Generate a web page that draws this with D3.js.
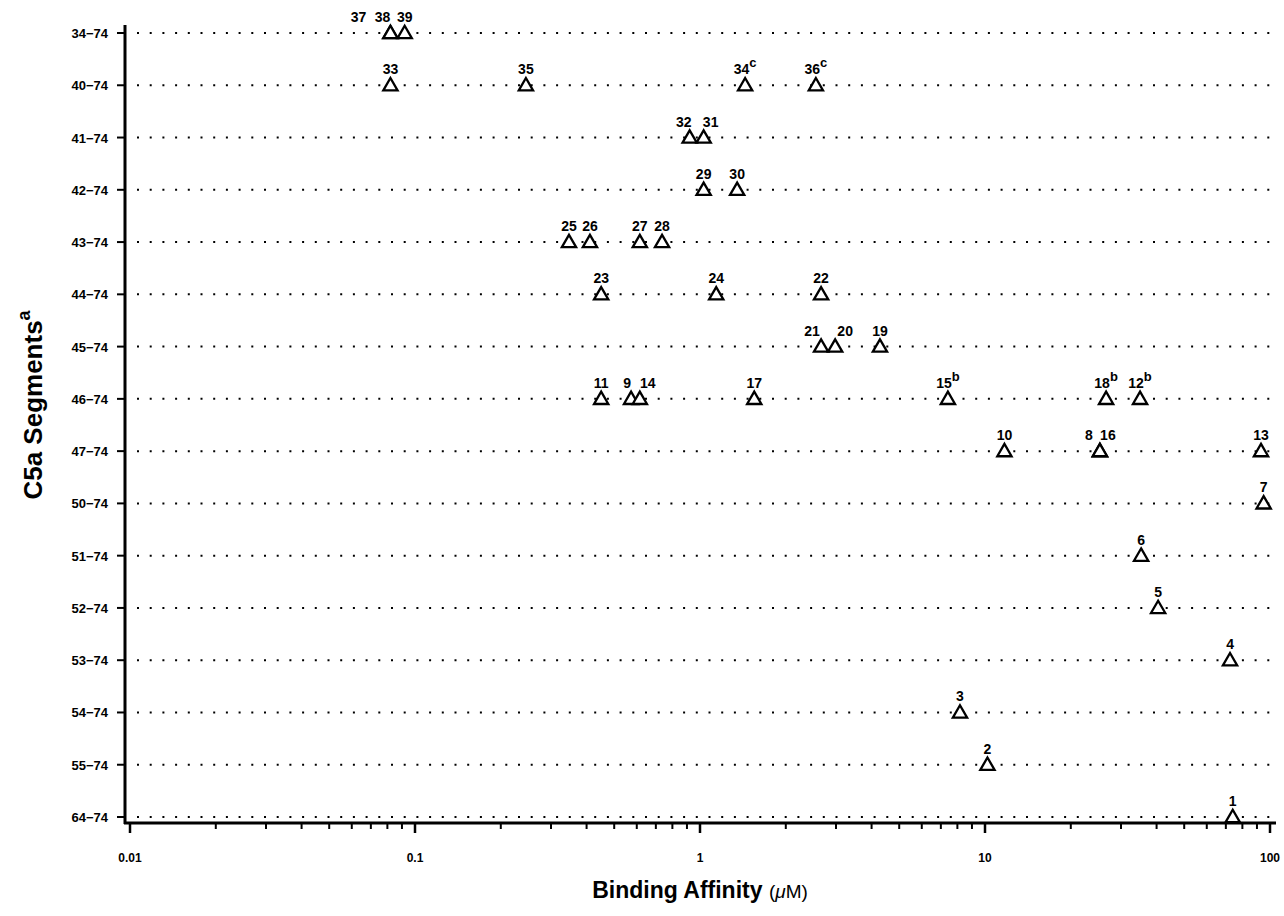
<!DOCTYPE html>
<html>
<head>
<meta charset="utf-8">
<script src="https://cdn.jsdelivr.net/npm/d3@7"></script>
<style>
  body { margin: 0; background: #fff; }
  svg text { font-family: "Liberation Sans", Arial, sans-serif; fill: #000; }
</style>
</head>
<body>
<script>
// C5a segments (rows, top to bottom)
var segments = ["34-74", "40-74", "41-74", "42-74", "43-74", "44-74", "45-74", "46-74",
                "47-74", "50-74", "51-74", "52-74", "53-74", "54-74", "55-74", "64-74"];

// compounds: number, segment, binding affinity (uM), footnote
var compoundIds  = [37, 38, 39, 33, 35, 34, 36, 32, 31, 29, 30, 25, 26, 27, 28, 23, 24, 22, 21, 20, 19,
                    11, 9, 14, 17, 15, 18, 12, 10, 8, 16, 13, 7, 6, 5, 4, 3, 2, 1];
var compoundSegs = ["34-74", "34-74", "34-74", "40-74", "40-74", "40-74", "40-74", "41-74", "41-74",
                    "42-74", "42-74", "43-74", "43-74", "43-74", "43-74", "44-74", "44-74", "44-74",
                    "45-74", "45-74", "45-74", "46-74", "46-74", "46-74", "46-74", "46-74", "46-74", "46-74",
                    "47-74", "47-74", "47-74", "47-74", "50-74", "51-74", "52-74", "53-74", "54-74", "55-74", "64-74"];
var affinity     = [0.082, 0.082, 0.092, 0.082, 0.245, 1.44, 2.55, 0.92, 1.03, 1.03, 1.35, 0.347, 0.411, 0.615, 0.736,
                    0.45, 1.14, 2.66, 2.66, 2.98, 4.28, 0.45, 0.573, 0.615, 1.55, 7.41, 26.6, 35.0,
                    11.7, 25.3, 25.3, 93, 95, 35.3, 40.5, 72.4, 8.17, 10.2, 74];
var footnotes    = {34: "c", 36: "c", 15: "b", 18: "b", 12: "b"};

// label nudges so crowded numbers don't sit on top of each other
var labelNudge = {37: -32, 38: -8, 8: -11, 16: 8, 32: -6, 31: 7, 21: -9, 20: 10, 9: -4, 14: 8};

var xTicks = [0.01, 0.1, 1, 10, 100];

var width = 1284, height = 916;

var svg = d3.select("body").append("svg")
    .attr("width", width)
    .attr("height", height);

var x = d3.scaleLog().domain([0.01, 100]).range([130, 1270]);
var y = d3.scalePoint().domain(segments).range([33, 817]);

var axisY = 823, axisX = 125;

// dotted row lines
svg.selectAll(".row")
    .data(segments)
    .enter().append("line")
    .attr("x1", 137).attr("x2", 1276)
    .attr("y1", function(d){ return y(d); })
    .attr("y2", function(d){ return y(d); })
    .attr("stroke", "#000")
    .attr("stroke-width", 2)
    .attr("stroke-dasharray", "2,10.7");

// y axis
svg.append("line")
    .attr("x1", axisX).attr("x2", axisX)
    .attr("y1", 25).attr("y2", axisY + 1)
    .attr("stroke", "#000").attr("stroke-width", 3);

svg.selectAll(".ytick")
    .data(segments)
    .enter().append("line")
    .attr("x1", axisX - 8).attr("x2", axisX)
    .attr("y1", function(d){ return y(d); })
    .attr("y2", function(d){ return y(d); })
    .attr("stroke", "#000").attr("stroke-width", 2);

svg.selectAll(".ylab")
    .data(segments)
    .enter().append("text")
    .attr("x", 108)
    .attr("y", function(d){ return y(d) + 5; })
    .attr("text-anchor", "end")
    .attr("font-size", 13)
    .attr("font-weight", "bold")
    .text(function(d){ return d.replace("-", "\u2212"); });

// x axis
svg.append("line")
    .attr("x1", axisX - 1).attr("x2", 1276)
    .attr("y1", axisY).attr("y2", axisY)
    .attr("stroke", "#000").attr("stroke-width", 3);

var minor = x.ticks().filter(function(d){ return xTicks.indexOf(d) < 0; });

svg.selectAll(".xminor")
    .data(minor)
    .enter().append("line")
    .attr("x1", function(d){ return x(d); })
    .attr("x2", function(d){ return x(d); })
    .attr("y1", axisY).attr("y2", axisY + 6)
    .attr("stroke", "#000").attr("stroke-width", 2);

svg.selectAll(".xmajor")
    .data(xTicks)
    .enter().append("line")
    .attr("x1", function(d){ return x(d); })
    .attr("x2", function(d){ return x(d); })
    .attr("y1", axisY).attr("y2", axisY + 10)
    .attr("stroke", "#000").attr("stroke-width", 2.5);

svg.selectAll(".xlab")
    .data(xTicks)
    .enter().append("text")
    .attr("x", function(d){ return x(d); })
    .attr("y", 862)
    .attr("text-anchor", "middle")
    .attr("font-size", 12)
    .attr("font-weight", "bold")
    .text(function(d){ return String(d); });

// axis titles
var xt = svg.append("text")
    .attr("x", 700).attr("y", 898)
    .attr("text-anchor", "middle")
    .attr("font-size", 23)
    .attr("font-weight", "bold");
xt.append("tspan").text("Binding Affinity ");
xt.append("tspan").attr("font-weight", "normal").attr("font-size", 19).text("(");
xt.append("tspan").attr("font-style", "italic").attr("font-weight", "normal").attr("font-size", 19).text("\u03bc");
xt.append("tspan").attr("font-weight", "normal").attr("font-size", 19).text("M)");

var yt = svg.append("text")
    .attr("transform", "translate(42,405) rotate(-90)")
    .attr("text-anchor", "middle")
    .attr("font-size", 26)
    .attr("font-weight", "bold");
yt.append("tspan").text("C5a Segments");
yt.append("tspan").attr("font-size", 18).attr("dy", -12).text("a");

// data
var points = compoundIds.map(function(id, i){
    return {id: id, seg: compoundSegs[i], v: affinity[i]};
});

var tri = d3.symbol().type(d3.symbolTriangle).size(88);

svg.selectAll(".pt")
    .data(points)
    .enter().append("path")
    .attr("d", tri)
    .attr("transform", function(d){ return "translate(" + x(d.v) + "," + (y(d.seg) + 1) + ")"; })
    .attr("fill", "#fff")
    .attr("stroke", "#000")
    .attr("stroke-width", 2.3);

var labels = svg.selectAll(".plab")
    .data(points)
    .enter().append("text")
    .attr("x", function(d){ return x(d.v) + (labelNudge[d.id] || 0); })
    .attr("y", function(d){ return y(d.seg) - 11; })
    .attr("text-anchor", "middle")
    .attr("font-size", 14)
    .attr("font-weight", "bold");

labels.append("tspan").text(function(d){ return d.id; });
labels.filter(function(d){ return footnotes[d.id]; })
    .append("tspan")
    .attr("dy", -7)
    .attr("font-size", 13)
    .text(function(d){ return footnotes[d.id]; });
</script>
</body>
</html>
